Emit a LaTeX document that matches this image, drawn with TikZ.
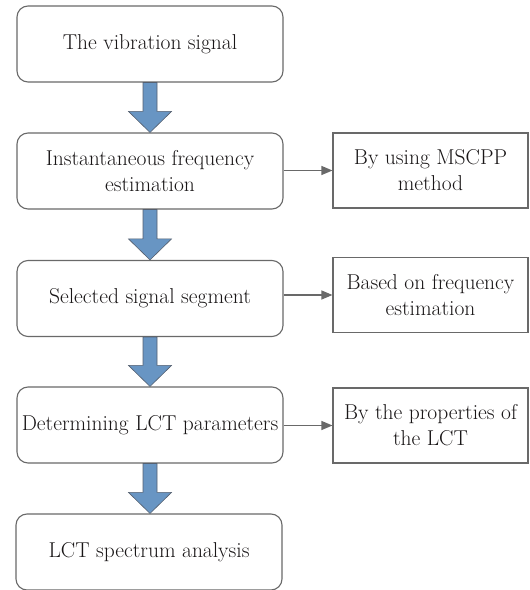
\documentclass[tikz,border=0pt]{standalone}
\usetikzlibrary{arrows.meta,calc}
\definecolor{boxline}{RGB}{105,105,105}
\definecolor{fatfill}{RGB}{104,149,195}
\definecolor{fatline}{RGB}{85,95,110}
\definecolor{txt}{RGB}{25,22,23}
\tikzset{
  mainbox/.style={draw=boxline, line width=1.1pt, rounded corners=11pt, minimum width=266pt, minimum height=76pt, inner sep=0pt, align=center, text=txt, font=\fontsize{21.5}{26}\selectfont},
  sidebox/.style={draw=boxline, line width=1.1pt, minimum width=195pt, minimum height=75pt, inner sep=0pt, align=center, text=txt, font=\fontsize{21.5}{26}\selectfont},
  fat/.style={fill=fatfill, draw=fatline, line width=0.6pt},
  conn/.style={draw=boxline, line width=1.1pt, -{Triangle[length=11pt,width=9pt]}}
}
\newcommand{\fatarrow}[2]{%
  \path let \p1=(#1.south), \p2=(#2.north) in
    [fat] (\x1-7pt,\y1) -- (\x1+7pt,\y1) -- (\x1+7pt,\y2+21pt) -- (\x1+21.5pt,\y2+21pt)
    -- (\x1,\y2) -- (\x1-21.5pt,\y2+21pt) -- (\x1-7pt,\y2+21pt) -- cycle;}
\begin{document}
\begin{tikzpicture}[x=1pt,y=1pt]
\useasboundingbox (0,0) rectangle (530,590);
\node[mainbox] (b1) at (150,546) {The vibration signal};
\node[mainbox] (b2) at (150,419) {Instantaneous frequency\\estimation};
\node[mainbox] (b3) at (150,291.5) {Selected signal segment};
\node[mainbox] (b4) at (150,165) {Determining LCT parameters};
\node[mainbox] (b5) at (149,38) {LCT spectrum analysis};
\node[sidebox] (r1) at (430.5,419.5) {By using MSCPP\\method};
\node[sidebox] (r2) at (430.5,295) {Based on frequency\\estimation};
\node[sidebox] (r3) at (430.5,164.5) {By the properties of\\the LCT};
\fatarrow{b1}{b2}
\fatarrow{b2}{b3}
\fatarrow{b3}{b4}
\fatarrow{b4}{b5}
\draw[conn] (r1.west -| b2.east) -- (r1.west);
\draw[conn] (r2.west -| b3.east) -- (r2.west);
\draw[conn] (r3.west -| b4.east) -- (r3.west);
\end{tikzpicture}
\end{document}
